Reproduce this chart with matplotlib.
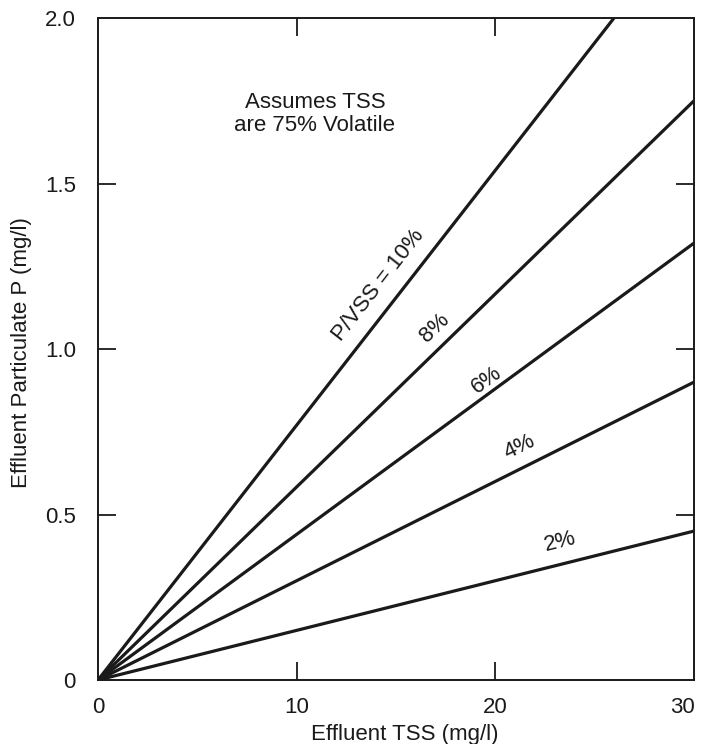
import matplotlib.pyplot as plt
from matplotlib.transforms import ScaledTranslation

plt.rcParams['font.family'] = ['Liberation Sans', 'DejaVu Sans']

# effluent TSS (mg/l) at the ends of each line
tss = [0, 30]
# particulate P (mg/l) read at TSS = 0 and TSS = 30
p_2 = [0, 0.45]
p_4 = [0, 0.90]
p_6 = [0, 1.32]
p_8 = [0, 1.75]
p_10 = [0, 2.31]

labels = ['2%', '4%', '6%', '8%', 'P/VSS = 10%']
label_x = [23.26, 21.24, 19.58, 16.96, 14.09]
label_y = [0.417, 0.704, 0.906, 1.063, 1.193]
label_rot = [14, 26, 36, 44, 52]

figure = plt.figure(figsize=(7.02, 7.44), dpi=100)
ax = figure.add_axes([0.1396, 0.086, 0.849, 0.8898])

for p in [p_2, p_4, p_6, p_8, p_10]:
    ax.plot(tss, p, color='#1a1a1a', linewidth=2.3, solid_capstyle='butt')

for lab, x, y, r in zip(labels, label_x, label_y, label_rot):
    ax.text(x, y, lab, rotation=r, ha='center', va='center', fontsize=16,
            color='#1a1a1a', rotation_mode='anchor')

ax.text(10.92, 1.71, 'Assumes TSS\nare 75% Volatile', ha='center', va='center',
        fontsize=16, color='#1a1a1a', linespacing=1.1)

ax.set_xlim(0, 30)
ax.set_ylim(0, 2.0)
ax.set_xticks([0, 10, 20, 30])
ax.set_xticklabels(['0', '10', '20', '30'])
ax.set_yticks([0, 0.5, 1.0, 1.5, 2.0])
ax.set_yticklabels(['0', '0.5', '1.0', '1.5', '2.0'])
ax.tick_params(direction='in', length=13, width=1.3, top=True, right=True,
               labelsize=16, colors='#1a1a1a')
ax.tick_params(axis='x', pad=12)
ax.tick_params(axis='y', pad=16)
# no tick marks at the corners
for t in ax.xaxis.get_major_ticks()[::3] + ax.yaxis.get_major_ticks()[::4]:
    t.tick1line.set_visible(False)
    t.tick2line.set_visible(False)

# last x label sits inside the right edge
last = ax.get_xticklabels()[-1]
last.set_ha('right')
last.set_transform(last.get_transform() + ScaledTranslation(1 / 100, 0, figure.dpi_scale_trans))

for s in ax.spines.values():
    s.set_linewidth(1.4)
    s.set_color('#1a1a1a')

ax.set_xlabel('Effluent TSS (mg/l)', fontsize=16, color='#1a1a1a')
ax.xaxis.set_label_coords(0.515, -0.066)
ax.set_ylabel('Effluent Particulate P (mg/l)', fontsize=16, color='#1a1a1a')
ax.yaxis.set_label_coords(-0.11, 0.495)

figure.savefig('out.png', dpi=100)
